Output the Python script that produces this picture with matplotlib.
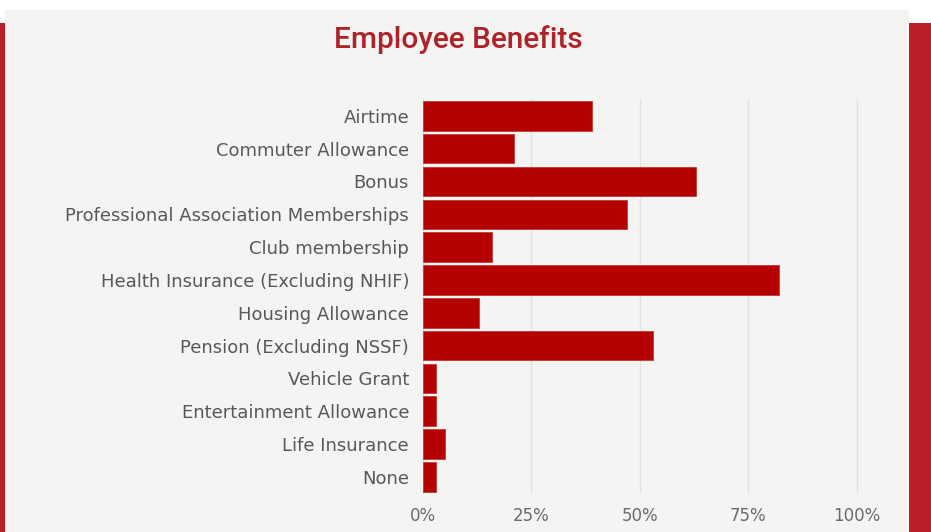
import matplotlib
matplotlib.use("Agg")
import matplotlib.pyplot as plt
from matplotlib.patches import Rectangle
from matplotlib.ticker import FuncFormatter

categories = [
    "Airtime",
    "Commuter Allowance",
    "Bonus",
    "Professional Association Memberships",
    "Club membership",
    "Health Insurance (Excluding NHIF)",
    "Housing Allowance",
    "Pension (Excluding NSSF)",
    "Vehicle Grant",
    "Entertainment Allowance",
    "Life Insurance",
    "None",
]
values = [39, 21, 63, 47, 16, 82, 13, 53, 3, 3, 5, 3]
x_ticks = [0, 25, 50, 75, 100]
title = "Employee Benefits"

W, H = 931, 532
fig = plt.figure(figsize=(W / 100, H / 100), dpi=100)
fig.patch.set_facecolor("white")

# background panel and red side strips (figure pixel coords)
def px_rect(x0, y0, x1, y1, color):
    fig.patches.append(Rectangle((x0 / W, 1 - y1 / H), (x1 - x0) / W, (y1 - y0) / H,
                                 transform=fig.transFigure, facecolor=color,
                                 edgecolor="none", zorder=-10))

px_rect(5, 10, 909, 532, "#f4f4f2")
px_rect(0, 22.5, 5, 532, "#bb2029")
px_rect(909, 22.5, 931, 532, "#bb2029")

left, right = 423.0, 856.7
top, bottom = 99.4, 493.3
ax = fig.add_axes([left / W, 1 - bottom / H, (right - left) / W, (bottom - top) / H])
ax.set_facecolor("none")
ax.set_zorder(1)

y = list(range(len(categories)))
ax.barh(y, values, height=0.9, color="#b50000", edgecolor="#c23a3a", linewidth=0.6, zorder=3)
ax.set_ylim(len(categories) - 0.5, -0.5)
ax.set_xlim(0, 100)
ax.set_yticks(y)
ax.set_yticklabels(categories, fontsize=13, color="#585858", family="DejaVu Sans")
ax.set_xticks(x_ticks)
ax.xaxis.set_major_formatter(FuncFormatter(lambda v, p: f"{int(v)}%"))
for lab in ax.get_xticklabels():
    lab.set_fontsize(12)
    lab.set_color("#6a6a6a")
    lab.set_family("DejaVu Sans")
ax.tick_params(axis="both", length=0)
ax.tick_params(axis="y", pad=10)
ax.tick_params(axis="x", pad=10)
ax.grid(axis="x", color="#e2e2e0", linewidth=1.0, zorder=0)
for gl in ax.get_xgridlines():
    gl.set_clip_on(False)
for s in ax.spines.values():
    s.set_visible(False)

fig.text(458 / W, 1 - 39.5 / H, title, ha="center", va="center", fontsize=21.5,
         color="#b0222a", family="Roboto", fontweight="medium")

fig.savefig("out.png", dpi=100, facecolor="white")
